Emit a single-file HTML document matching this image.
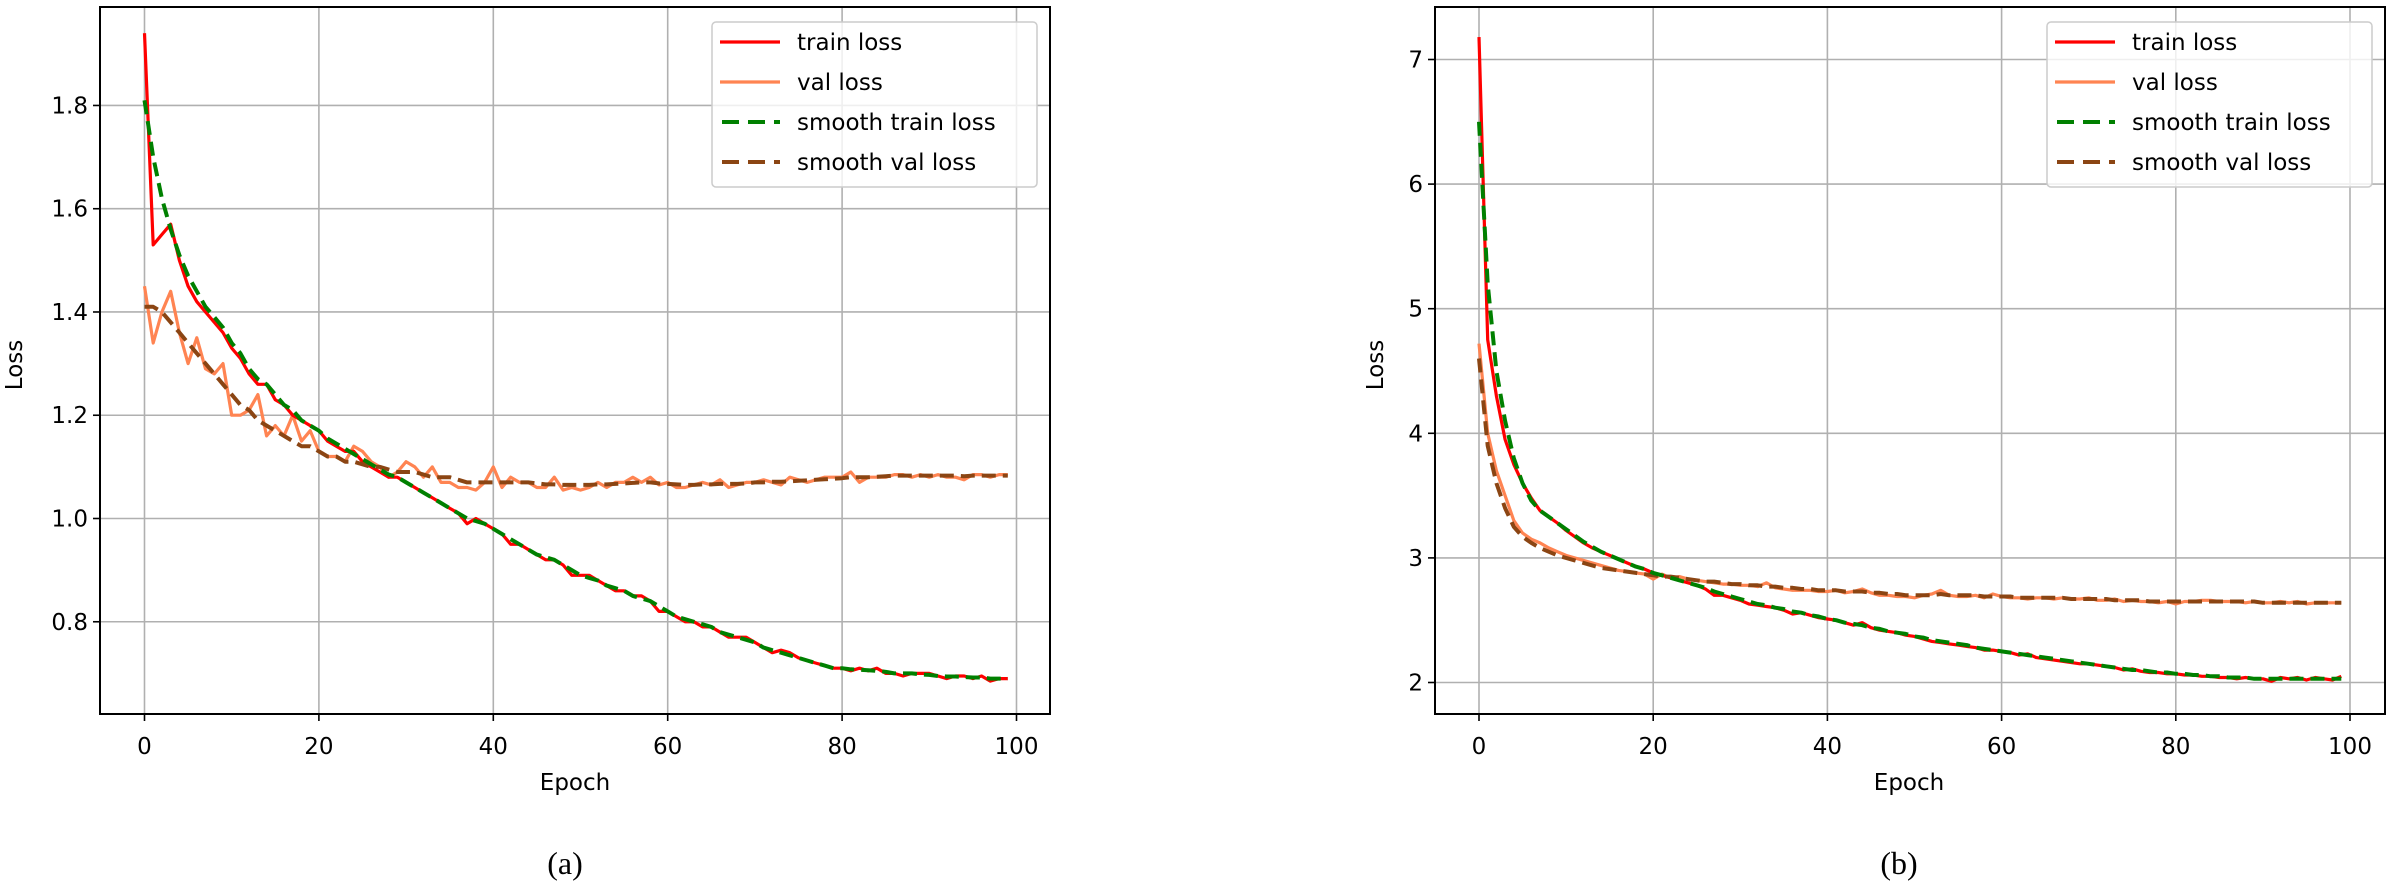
<!DOCTYPE html>
<html><head><meta charset="utf-8"><style>
html,body{margin:0;padding:0;background:#fff;}
svg text{font-family:"DejaVu Sans","Liberation Sans",sans-serif;}
</style></head><body>
<svg id="fig" width="2393" height="885" viewBox="0 0 2393 885" xmlns="http://www.w3.org/2000/svg">
<text x="565" y="874" font-size="32" text-anchor="middle" style="font-family:'Liberation Serif',serif">(a)</text>
<text x="1899" y="874" font-size="32" text-anchor="middle" style="font-family:'Liberation Serif',serif">(b)</text>
</svg>
<script>
const epochs = Array.from({length:100},(_, i)=>i);
const aTrain = [1.94,1.53,1.55,1.57,1.50,1.45,1.42,1.40,1.38,1.36,1.33,1.31,1.28,1.26,1.26,1.23,1.22,1.20,1.19,1.18,1.17,1.15,1.14,1.13,1.13,1.11,1.10,1.09,1.08,1.08,1.07,1.06,1.05,1.04,1.03,1.02,1.01,0.99,1.00,0.99,0.98,0.97,0.95,0.95,0.94,0.93,0.92,0.92,0.91,0.89,0.89,0.89,0.88,0.87,0.86,0.86,0.85,0.85,0.84,0.82,0.82,0.81,0.80,0.80,0.79,0.79,0.78,0.77,0.77,0.77,0.76,0.75,0.74,0.745,0.74,0.73,0.725,0.72,0.715,0.71,0.71,0.705,0.71,0.705,0.71,0.70,0.70,0.695,0.70,0.70,0.70,0.695,0.69,0.695,0.695,0.69,0.695,0.685,0.69,0.69];
const aSmoothTrain = [1.81,1.70,1.62,1.56,1.51,1.47,1.44,1.41,1.39,1.37,1.34,1.32,1.29,1.27,1.26,1.24,1.22,1.21,1.19,1.18,1.17,1.155,1.145,1.135,1.125,1.115,1.105,1.095,1.085,1.08,1.07,1.06,1.05,1.04,1.03,1.02,1.01,1.00,0.995,0.99,0.98,0.97,0.96,0.95,0.94,0.93,0.925,0.92,0.91,0.90,0.89,0.885,0.88,0.87,0.865,0.86,0.85,0.845,0.84,0.83,0.82,0.81,0.805,0.80,0.795,0.79,0.78,0.775,0.77,0.765,0.76,0.75,0.745,0.74,0.735,0.73,0.725,0.72,0.715,0.71,0.71,0.708,0.707,0.706,0.705,0.703,0.70,0.70,0.70,0.698,0.697,0.695,0.694,0.694,0.693,0.692,0.692,0.69,0.69,0.69];
const aVal = [1.45,1.34,1.40,1.44,1.36,1.30,1.35,1.29,1.28,1.30,1.20,1.20,1.21,1.24,1.16,1.18,1.16,1.20,1.15,1.17,1.13,1.12,1.12,1.11,1.14,1.13,1.11,1.10,1.08,1.09,1.11,1.10,1.08,1.10,1.07,1.07,1.06,1.06,1.055,1.07,1.10,1.06,1.08,1.07,1.07,1.06,1.06,1.08,1.055,1.06,1.055,1.06,1.07,1.06,1.07,1.07,1.08,1.07,1.08,1.065,1.07,1.06,1.06,1.065,1.07,1.065,1.075,1.06,1.065,1.07,1.07,1.075,1.07,1.065,1.08,1.075,1.07,1.075,1.08,1.08,1.08,1.09,1.07,1.08,1.08,1.08,1.085,1.085,1.08,1.085,1.08,1.085,1.08,1.08,1.075,1.085,1.085,1.08,1.085,1.085];
const aSmoothVal = [1.41,1.41,1.40,1.38,1.36,1.34,1.32,1.30,1.28,1.26,1.24,1.22,1.21,1.19,1.18,1.17,1.16,1.15,1.14,1.14,1.13,1.12,1.12,1.11,1.11,1.105,1.10,1.10,1.095,1.09,1.09,1.09,1.085,1.08,1.08,1.08,1.075,1.07,1.07,1.07,1.07,1.07,1.07,1.07,1.07,1.068,1.066,1.066,1.065,1.065,1.065,1.065,1.066,1.066,1.067,1.068,1.069,1.07,1.07,1.068,1.067,1.066,1.065,1.065,1.066,1.066,1.067,1.067,1.067,1.068,1.07,1.07,1.071,1.071,1.072,1.073,1.074,1.075,1.076,1.077,1.078,1.08,1.08,1.08,1.081,1.082,1.083,1.083,1.083,1.083,1.083,1.083,1.083,1.083,1.082,1.083,1.083,1.083,1.083,1.083];
const aTicksY = [0.8,1.0,1.2,1.4,1.6,1.8];
const aTickLabelsY = ["0.8","1.0","1.2","1.4","1.6","1.8"];

const bTrain = [7.18,4.75,4.30,3.95,3.75,3.60,3.48,3.38,3.33,3.28,3.22,3.17,3.12,3.08,3.05,3.02,2.99,2.96,2.93,2.91,2.88,2.86,2.84,2.82,2.80,2.78,2.75,2.70,2.70,2.68,2.66,2.63,2.62,2.61,2.60,2.58,2.55,2.56,2.54,2.52,2.51,2.50,2.48,2.46,2.48,2.44,2.42,2.41,2.40,2.38,2.37,2.35,2.33,2.32,2.31,2.30,2.29,2.28,2.26,2.26,2.25,2.24,2.22,2.23,2.20,2.19,2.18,2.17,2.16,2.15,2.15,2.14,2.13,2.12,2.10,2.11,2.09,2.08,2.08,2.07,2.07,2.06,2.06,2.05,2.05,2.04,2.04,2.03,2.04,2.03,2.03,2.01,2.04,2.03,2.04,2.02,2.04,2.03,2.02,2.05];
const bSmoothTrain = [6.50,5.20,4.50,4.10,3.80,3.60,3.46,3.38,3.33,3.28,3.23,3.18,3.13,3.09,3.05,3.02,2.99,2.96,2.93,2.91,2.88,2.86,2.84,2.82,2.80,2.78,2.76,2.73,2.71,2.69,2.67,2.65,2.63,2.62,2.60,2.59,2.57,2.56,2.54,2.53,2.51,2.50,2.48,2.47,2.46,2.44,2.43,2.41,2.40,2.39,2.37,2.36,2.34,2.33,2.32,2.31,2.30,2.28,2.27,2.26,2.25,2.24,2.23,2.22,2.21,2.20,2.19,2.18,2.17,2.16,2.15,2.14,2.13,2.12,2.11,2.10,2.10,2.09,2.08,2.08,2.07,2.07,2.06,2.06,2.05,2.05,2.04,2.04,2.04,2.03,2.03,2.03,2.03,2.03,2.03,2.03,2.03,2.03,2.03,2.03];
const bVal = [4.72,4.00,3.70,3.50,3.30,3.20,3.15,3.12,3.08,3.05,3.02,3.00,2.98,2.96,2.94,2.92,2.90,2.89,2.88,2.87,2.83,2.87,2.84,2.85,2.83,2.82,2.81,2.80,2.79,2.79,2.78,2.78,2.77,2.80,2.76,2.75,2.74,2.74,2.74,2.73,2.73,2.74,2.72,2.73,2.75,2.72,2.70,2.70,2.69,2.69,2.68,2.70,2.71,2.74,2.70,2.69,2.69,2.70,2.68,2.71,2.69,2.68,2.68,2.67,2.68,2.68,2.67,2.68,2.67,2.67,2.68,2.66,2.66,2.67,2.65,2.66,2.65,2.65,2.64,2.65,2.63,2.65,2.65,2.66,2.66,2.65,2.65,2.65,2.64,2.65,2.64,2.64,2.65,2.64,2.65,2.63,2.64,2.64,2.64,2.64];
const bSmoothVal = [4.60,3.90,3.60,3.40,3.25,3.17,3.12,3.08,3.05,3.02,3.00,2.98,2.96,2.94,2.92,2.91,2.90,2.89,2.88,2.87,2.86,2.85,2.85,2.84,2.83,2.82,2.81,2.81,2.80,2.79,2.79,2.78,2.78,2.77,2.77,2.76,2.76,2.75,2.75,2.74,2.74,2.74,2.73,2.73,2.73,2.72,2.72,2.71,2.71,2.70,2.70,2.70,2.70,2.71,2.70,2.70,2.70,2.70,2.69,2.69,2.69,2.69,2.68,2.68,2.68,2.68,2.68,2.68,2.67,2.67,2.67,2.67,2.67,2.66,2.66,2.66,2.66,2.65,2.65,2.65,2.65,2.65,2.65,2.65,2.65,2.65,2.65,2.65,2.65,2.65,2.64,2.64,2.64,2.64,2.64,2.64,2.64,2.64,2.64,2.64];
const bTicksY = [2,3,4,5,6,7];
const bTickLabelsY = ["2","3","4","5","6","7"];
const xTicks = [0,20,40,60,80,100];
const xTickLabels = ["0","20","40","60","80","100"];
const legendLabels = ["train loss","val loss","smooth train loss","smooth val loss"];

const NS = "http://www.w3.org/2000/svg";
const svg = document.getElementById('fig');
function mk(tag, attrs, parent){ const e=document.createElementNS(NS,tag); for(const k in attrs) e.setAttribute(k,attrs[k]); (parent||svg).appendChild(e); return e; }

function drawChart(cfg){
  const g = mk('g',{});
  
  
  const L=cfg.left,R=cfg.right,T=7,B=714;
  const xs = v => cfg.x0 + v*cfg.xk;
  const ys = v => cfg.yRef - (v-cfg.vRef)*cfg.yk;
  // grid
  xTicks.forEach((t,i)=>{
    const x=xs(t);
    const gl=mk('line',{x1:x,x2:x,y1:T,y2:B,stroke:'#b0b0b0','stroke-width':1.6},g);
    
    
    mk('line',{x1:x,x2:x,y1:B,y2:B+7,stroke:'#000','stroke-width':1.6},g);
    const tx=mk('text',{x:x,y:B+40,'font-size':23,'text-anchor':'middle',fill:'#000'},g);
    tx.textContent=xTickLabels[i];
    
    
  });
  cfg.ticksY.forEach((t,i)=>{
    const y=ys(t);
    const gl=mk('line',{x1:L,x2:R,y1:y,y2:y,stroke:'#b0b0b0','stroke-width':1.6},g);
    
    
    mk('line',{x1:L-7,x2:L,y1:y,y2:y,stroke:'#000','stroke-width':1.6},g);
    const tx=mk('text',{x:L-12,y:y+8,'font-size':23,'text-anchor':'end',fill:'#000'},g);
    tx.textContent=cfg.tickLabelsY[i];
    
    
  });
  const series=[
    {d:cfg.train,c:'#ff0000',w:3.2,dash:null,n:'train-loss-line'},
    {d:cfg.val,c:'#ff8452',w:3.2,dash:null,n:'val-loss-line'},
    {d:cfg.strain,c:'#008000',w:4,dash:'14,7',n:'smooth-train-loss-line'},
    {d:cfg.sval,c:'#8b4513',w:4,dash:'14,7',n:'smooth-val-loss-line'}
  ];
  const order=[1,0,3,2];
  order.forEach(k=>{
    const s=series[k];
    const pts=s.d.map((v,i)=>xs(epochs[i]).toFixed(1)+','+ys(v).toFixed(1)).join(' ');
    const a={points:pts,fill:'none',stroke:s.c,'stroke-width':s.w,'stroke-linejoin':'round'};
    if(s.dash) a['stroke-dasharray']=s.dash;
    const p=mk('polyline',a,g);
    
    
  });
  const frame=mk('rect',{x:L,y:T,width:R-L,height:B-T,fill:'none',stroke:'#000','stroke-width':2},g);
  
  
  // axis titles
  const xl=mk('text',{x:cfg.xlabX,y:790,'font-size':23,'text-anchor':'middle'},g);
  xl.textContent='Epoch';
  
  
  const yl=mk('text',{x:0,y:0,'font-size':23,'text-anchor':'middle',transform:`translate(${cfg.ylabX},365) rotate(-90)`},g);
  yl.textContent='Loss';
  
  
  // legend
  const lg=mk('g',{},g);
  
  
  const lx=R-338, ly=22;
  mk('rect',{x:lx,y:ly,width:325,height:165,rx:4,fill:'#fff','fill-opacity':0.8,stroke:'#cccccc','stroke-width':1.5},lg);
  legendLabels.forEach((lab,i)=>{
    const s=series[i]; const y=ly+20+i*40;
    const la={x1:lx+8,x2:lx+68,y1:y,y2:y,stroke:s.c,'stroke-width':s.w};
    if(s.dash){la['stroke-dasharray']='17,9';la['stroke-dashoffset']=-2;}
    mk('line',la,lg);
    const t=mk('text',{x:lx+85,y:y+8,'font-size':23,fill:'#000'},lg);
    t.textContent=lab;
    
    
  });
}
drawChart({name:'chart-a',left:100,right:1050,x0:144.5,xk:8.72,yRef:518.5,vRef:1.0,yk:516.3,
  ticksY:aTicksY,tickLabelsY:aTickLabelsY,train:aTrain,val:aVal,strain:aSmoothTrain,sval:aSmoothVal,xlabX:575,ylabX:22});
drawChart({name:'chart-b',left:1435,right:2385,x0:1479,xk:8.71,yRef:59.5,vRef:7,yk:124.6,
  ticksY:bTicksY,tickLabelsY:bTickLabelsY,train:bTrain,val:bVal,strain:bSmoothTrain,sval:bSmoothVal,xlabX:1909,ylabX:1383});
</script>
</body></html>
